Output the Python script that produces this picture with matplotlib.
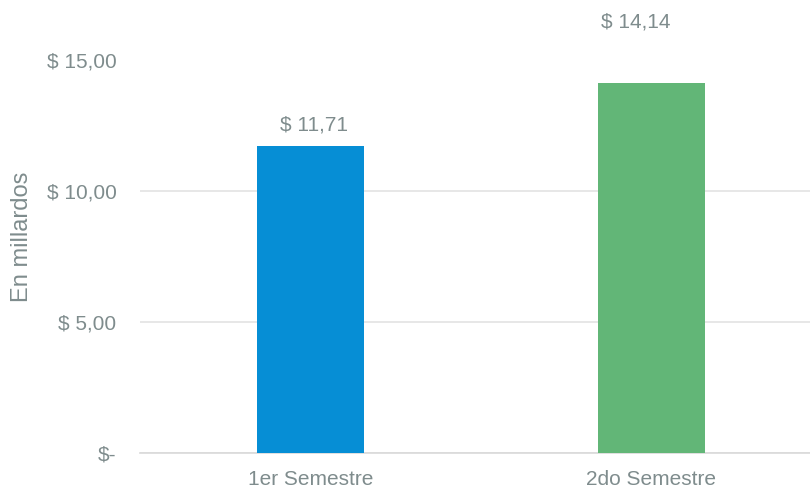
import matplotlib
matplotlib.use("Agg")
import matplotlib.pyplot as plt
from matplotlib.ticker import FuncFormatter

# data
categories = ["1er Semestre", "2do Semestre"]
values = [11.71, 14.14]
bar_colors = ["#068ED5", "#62B677"]
text_color = "#7F8C8D"

plt.rcParams["font.family"] = ["Liberation Sans", "DejaVu Sans"]


def money(v, pos=None):
    if abs(v) < 1e-9:
        return "$-"
    return "$ " + f"{v:.2f}".replace(".", ",")


fig = plt.figure(figsize=(8.1, 4.92), dpi=100)
# plot area runs slightly past the right edge, as in the original
ax = fig.add_axes([140 / 810, 39 / 492, 682 / 810, 393 / 492])

x = list(range(len(categories)))
bars = ax.bar(x, values, width=0.314, color=bar_colors, zorder=3)

ax.set_xlim(-0.5, len(categories) - 0.5)
ax.set_ylim(0, 15)
ax.set_yticks([0, 5, 10, 15])
ax.yaxis.set_major_formatter(FuncFormatter(money))
ax.set_xticks(x)
ax.set_xticklabels(categories)

ax.tick_params(axis="y", length=0, pad=17, labelsize=15, labelcolor=text_color)
ax.tick_params(axis="x", length=0, pad=12, labelsize=15, labelcolor=text_color)

ax.grid(axis="y", color="#E3E3E3", linewidth=1.2, zorder=0)
ax.yaxis.get_gridlines()[-1].set_visible(False)
for s in ["top", "right", "left"]:
    ax.spines[s].set_visible(False)
ax.spines["bottom"].set_color("#D9D9D9")
ax.spines["bottom"].set_linewidth(1.2)

# value labels (the second one sits higher and a bit left, as in the original)
offsets = [(3, 21), (-16, 61)]
for b, v, off in zip(bars, values, offsets):
    ax.annotate(money(v), (b.get_x() + b.get_width() / 2, v),
                xytext=off, textcoords="offset pixels",
                ha="center", va="center", fontsize=15, color=text_color,
                annotation_clip=False)

fig.text(22 / 810, 1 - 237 / 492, "En millardos", rotation=90,
         ha="center", va="center", fontsize=17, color=text_color)

fig.savefig("out.png", dpi=100)
